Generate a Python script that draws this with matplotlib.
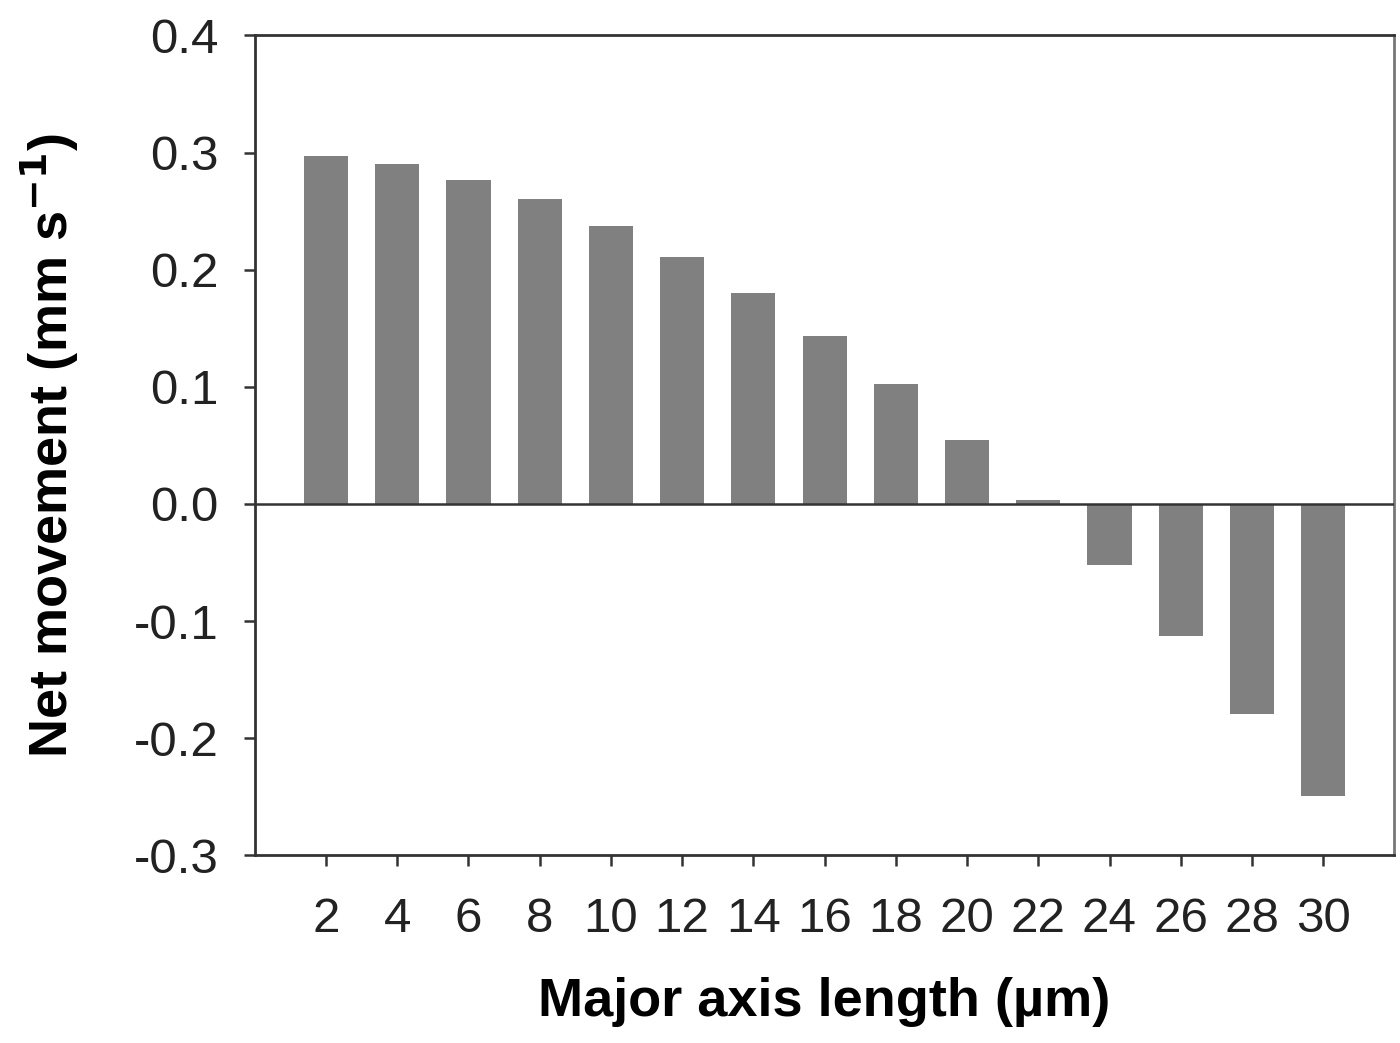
import matplotlib
matplotlib.use("Agg")
import matplotlib.pyplot as plt

# Net movement by major axis length
LENGTHS = [2, 4, 6, 8, 10, 12, 14, 16, 18, 20, 22, 24, 26, 28, 30]
NET_MOVEMENT = [0.297, 0.290, 0.277, 0.260, 0.237, 0.211, 0.180, 0.143,
                0.102, 0.055, 0.003, -0.052, -0.113, -0.179, -0.249]
Y_TICKS = [-0.3, -0.2, -0.1, 0.0, 0.1, 0.2, 0.3, 0.4]

plt.rcParams["font.family"] = ["Liberation Sans", "DejaVu Sans"]

fig = plt.figure(figsize=(14, 10.43), dpi=100)
ax = fig.add_axes([0.182, 0.180, 0.814, 0.786])

pos = list(range(1, len(LENGTHS) + 1))
ax.bar(pos, NET_MOVEMENT, width=0.62, color="#808080", zorder=2)
ax.axhline(0, color="#333333", lw=1.8, zorder=3)

ax.set_xlim(0, len(LENGTHS) + 1)
ax.set_ylim(-0.3, 0.4)
ax.set_xticks(pos)
ax.set_xticklabels([str(v) for v in LENGTHS])
ax.set_yticks(Y_TICKS)
ax.set_yticklabels([f"{v:.1f}" for v in Y_TICKS])

ax.tick_params(axis="both", labelsize=35.5, length=8, width=1.8,
               color="#333333", labelcolor="#222222")
ax.tick_params(axis="x", pad=22)
ax.tick_params(axis="y", pad=18)

for side in ["left", "bottom", "top"]:
    ax.spines[side].set_color("#333333")
    ax.spines[side].set_linewidth(2)
ax.spines["right"].set_color("#777777")
ax.spines["right"].set_linewidth(2)

ax.set_xlabel("Major axis length (\u00b5m)", fontsize=39, fontweight="bold",
              labelpad=25)
ax.set_ylabel("Net movement (mm s$^{\\mathbf{-1}}$)", fontsize=39,
              fontweight="bold", labelpad=38)

fig.savefig("out.png", dpi=100)
